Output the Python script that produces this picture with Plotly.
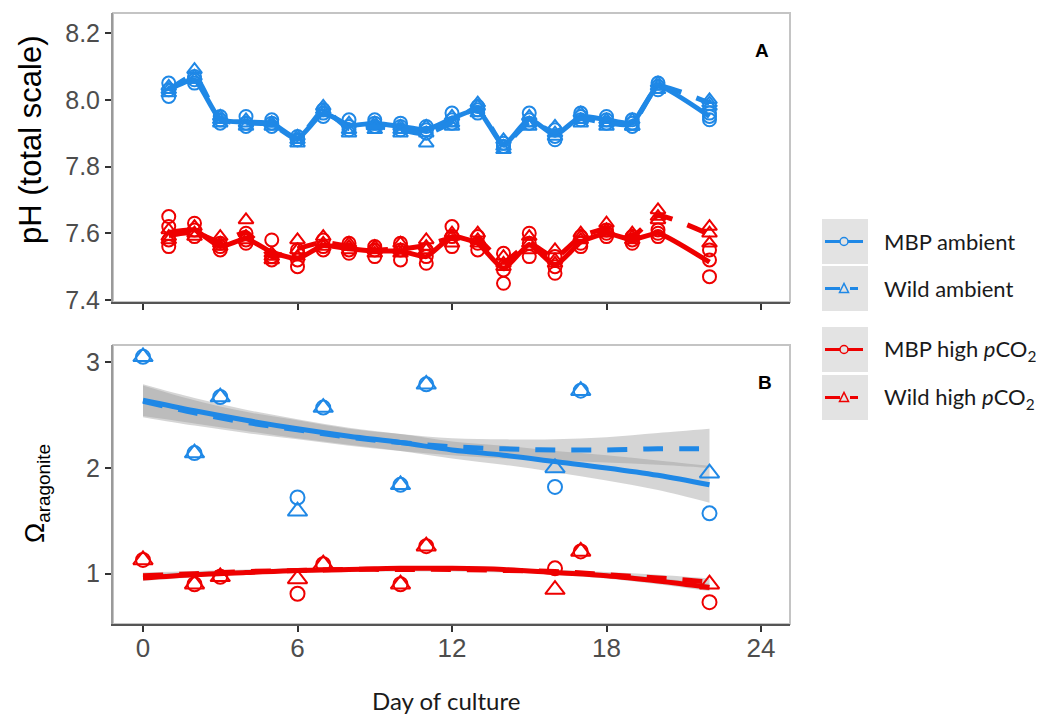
import numpy as np
import plotly.graph_objects as go

W, H = 1044, 718
OFF = 8  # page body margin offset
FW, FH = W - OFF, H - OFF

# ---------------- Panel A data (pH, replicate values per day) ----------------
days_ph = [1, 2, 3, 4, 5, 6, 7, 8, 9, 10, 11, 12, 13, 14, 15, 16, 17, 18, 19, 20, 22]

mbp_ambient_ph = [
    [8.05, 8.01, 8.03], [8.06, 8.07, 8.05], [7.95, 7.94, 7.93], [7.95, 7.93, 7.92],
    [7.94, 7.93, 7.92], [7.89, 7.88, 7.88], [7.97, 7.95, 7.96], [7.94, 7.92, 7.91],
    [7.94, 7.93, 7.92], [7.93, 7.92, 7.91], [7.92, 7.91, 7.90], [7.96, 7.94, 7.93],
    [7.98, 7.97, 7.96], [7.87, 7.86, 7.86], [7.96, 7.94, 7.93], [7.91, 7.89, 7.88],
    [7.96, 7.95, 7.94], [7.95, 7.94, 7.93], [7.94, 7.93, 7.92], [8.05, 8.04, 8.03],
    [7.96, 7.95, 7.94]]
wild_ambient_ph = [
    [8.04, 8.02, 8.03], [8.09, 8.07, 8.06], [7.94, 7.95, 7.93], [7.94, 7.92, 7.93],
    [7.93, 7.92, 7.93], [7.89, 7.87, 7.88], [7.98, 7.96, 7.97], [7.93, 7.91, 7.90],
    [7.93, 7.92, 7.91], [7.92, 7.91, 7.90], [7.92, 7.90, 7.87], [7.95, 7.93, 7.92],
    [7.99, 7.98, 7.96], [7.88, 7.86, 7.85], [7.95, 7.93, 7.92], [7.92, 7.90, 7.89],
    [7.96, 7.94, 7.93], [7.94, 7.93, 7.92], [7.94, 7.92, 7.92], [8.05, 8.04, 8.03],
    [8.00, 7.99, 7.98]]
mbp_high_ph = [
    [7.65, 7.62, 7.58, 7.56], [7.63, 7.61, 7.59], [7.57, 7.56, 7.55], [7.60, 7.58, 7.57],
    [7.58, 7.53, 7.52], [7.55, 7.52, 7.50], [7.58, 7.56, 7.55], [7.57, 7.55, 7.54],
    [7.56, 7.55, 7.53], [7.57, 7.55, 7.52], [7.55, 7.53, 7.51], [7.62, 7.59, 7.56],
    [7.59, 7.57, 7.55], [7.54, 7.49, 7.45], [7.60, 7.57, 7.53], [7.53, 7.50, 7.48],
    [7.59, 7.57, 7.56], [7.61, 7.60, 7.59], [7.59, 7.58, 7.57], [7.61, 7.60, 7.59],
    [7.55, 7.52, 7.47]]
wild_high_ph = [
    [7.61, 7.59, 7.58], [7.62, 7.60, 7.59], [7.59, 7.57, 7.56], [7.64, 7.59, 7.58],
    [7.54, 7.53, 7.52], [7.58, 7.55, 7.53], [7.59, 7.57, 7.56], [7.57, 7.56, 7.55],
    [7.56, 7.55, 7.54], [7.57, 7.55, 7.54], [7.58, 7.56, 7.55], [7.60, 7.59, 7.57],
    [7.60, 7.58, 7.57], [7.53, 7.51, 7.50], [7.59, 7.57, 7.55], [7.55, 7.52, 7.51],
    [7.60, 7.59, 7.58], [7.63, 7.61, 7.60], [7.60, 7.59, 7.58], [7.67, 7.65, 7.64],
    [7.62, 7.60, 7.57]]

# ---------------- Panel B data (Omega aragonite) ----------------
days_om = [0, 2, 3, 6, 7, 10, 11, 16, 17, 22]
mbp_ambient_om = [3.05, 2.14, 2.67, 1.72, 2.57, 1.84, 2.79, 1.82, 2.73, 1.57]
wild_ambient_om = [3.05, 2.14, 2.67, 1.59, 2.57, 1.84, 2.79, 2.00, 2.73, 1.95]
mbp_high_om = [1.13, 0.90, 0.97, 0.81, 1.09, 0.90, 1.26, 1.05, 1.21, 0.73]
wild_high_om = [1.13, 0.90, 0.97, 0.95, 1.09, 0.90, 1.26, 0.85, 1.21, 0.90]

# fitted curves and confidence bands
fit_days = [0, 2, 4, 6, 8, 10, 12, 14, 16, 18, 20, 22]
fit_mbp_amb = [2.64, 2.54, 2.45, 2.37, 2.30, 2.24, 2.17, 2.12, 2.06, 2.00, 1.93, 1.84]
fit_mbp_amb_lo = [2.49, 2.42, 2.35, 2.28, 2.22, 2.16, 2.09, 2.03, 1.96, 1.88, 1.79, 1.67]
fit_mbp_amb_hi = [2.79, 2.66, 2.55, 2.46, 2.38, 2.32, 2.25, 2.21, 2.16, 2.12, 2.07, 2.02]
fit_wild_amb = [2.63, 2.52, 2.43, 2.36, 2.29, 2.24, 2.20, 2.18, 2.17, 2.17, 2.18, 2.18]
fit_wild_amb_lo = [2.48, 2.40, 2.33, 2.27, 2.21, 2.16, 2.12, 2.09, 2.07, 2.05, 2.03, 2.00]
fit_wild_amb_hi = [2.78, 2.64, 2.53, 2.45, 2.37, 2.32, 2.28, 2.27, 2.27, 2.29, 2.33, 2.37]
fit_mbp_high = [0.96, 0.99, 1.01, 1.03, 1.04, 1.05, 1.05, 1.04, 1.01, 0.98, 0.93, 0.87]
fit_mbp_high_lo = [0.93, 0.965, 0.99, 1.01, 1.02, 1.03, 1.03, 1.02, 0.99, 0.955, 0.90, 0.835]
fit_mbp_high_hi = [0.99, 1.015, 1.03, 1.05, 1.06, 1.07, 1.07, 1.06, 1.03, 1.005, 0.96, 0.905]
fit_wild_high = [0.98, 1.00, 1.02, 1.03, 1.04, 1.04, 1.04, 1.03, 1.02, 0.99, 0.96, 0.92]
fit_wild_high_lo = [0.95, 0.975, 1.00, 1.01, 1.02, 1.02, 1.02, 1.01, 1.00, 0.965, 0.93, 0.885]
fit_wild_high_hi = [1.01, 1.025, 1.04, 1.05, 1.06, 1.06, 1.06, 1.05, 1.04, 1.015, 0.99, 0.955]

x_ticks = [0, 6, 12, 18, 24]
ph_ticks = [7.4, 7.6, 7.8, 8.0, 8.2]
om_ticks = [1, 2, 3]

BLUE = "#1f88e6"
RED = "#ee0000"
RIBBON = "rgba(150,150,150,0.4)"
LW = 5
DASH = "20px,16px"

fig = go.Figure()


def px(xp):
    return (xp - OFF) / FW


def py(yp):
    return 1 - (yp - OFF) / FH


def add_ph(values, color, symbol, dash):
    xs, ys = [], []
    for d, vals in zip(days_ph, values):
        for v in vals:
            xs.append(d)
            ys.append(v)
    fig.add_trace(go.Scatter(x=xs, y=ys, mode="markers", xaxis="x", yaxis="y",
                             marker=dict(symbol=symbol, size=13, color=color,
                                         line=dict(color=color, width=2)),
                             showlegend=False, hoverinfo="skip"))
    means = [float(np.mean(v)) for v in values]
    fig.add_trace(go.Scatter(x=days_ph, y=means, mode="lines", xaxis="x", yaxis="y",
                             line=dict(color=color, width=LW, dash=dash, shape="spline",
                                       smoothing=0.45),
                             showlegend=False, hoverinfo="skip"))


add_ph(mbp_ambient_ph, BLUE, "circle-open", "solid")
add_ph(wild_ambient_ph, BLUE, "triangle-up-open", DASH)
add_ph(mbp_high_ph, RED, "circle-open", "solid")
add_ph(wild_high_ph, RED, "triangle-up-open", DASH)


def add_ribbon(lo, hi):
    fig.add_trace(go.Scatter(x=fit_days, y=lo, mode="lines", xaxis="x2", yaxis="y2",
                             line=dict(width=0, shape="spline"), showlegend=False,
                             hoverinfo="skip"))
    fig.add_trace(go.Scatter(x=fit_days, y=hi, mode="lines", xaxis="x2", yaxis="y2",
                             line=dict(width=0, shape="spline"), fill="tonexty",
                             fillcolor=RIBBON, showlegend=False, hoverinfo="skip"))


add_ribbon(fit_mbp_amb_lo, fit_mbp_amb_hi)
add_ribbon(fit_wild_amb_lo, fit_wild_amb_hi)
add_ribbon(fit_mbp_high_lo, fit_mbp_high_hi)
add_ribbon(fit_wild_high_lo, fit_wild_high_hi)

for fit, color, dash in [(fit_mbp_amb, BLUE, "solid"), (fit_wild_amb, BLUE, DASH),
                         (fit_mbp_high, RED, "solid"), (fit_wild_high, RED, DASH)]:
    fig.add_trace(go.Scatter(x=fit_days, y=fit, mode="lines", xaxis="x2", yaxis="y2",
                             line=dict(color=color, width=LW, dash=dash, shape="spline"),
                             showlegend=False, hoverinfo="skip"))

for vals, color, symbol, size in [(mbp_ambient_om, BLUE, "circle-open", 14),
                                  (wild_ambient_om, BLUE, "triangle-up-open", 17),
                                  (mbp_high_om, RED, "circle-open", 14),
                                  (wild_high_om, RED, "triangle-up-open", 17)]:
    fig.add_trace(go.Scatter(x=days_om, y=vals, mode="markers", xaxis="x2", yaxis="y2",
                             marker=dict(symbol=symbol, size=size, color=color,
                                         line=dict(color=color, width=2)),
                             showlegend=False, hoverinfo="skip"))

xdom = [px(113), px(790)]
tickfont = dict(family="Liberation Sans, Arial", size=25, color="#4d4d4d")
common_x = dict(domain=xdom, range=[-1.165, 25.126], tickvals=x_ticks, ticks="outside",
                ticklen=6, tickwidth=2, tickcolor="#333333", showline=True,
                linecolor="#555555", linewidth=2, showgrid=False, zeroline=False,
                automargin=False)
common_y = dict(ticks="outside", ticklen=6, tickwidth=2, tickcolor="#333333",
                showline=True, linecolor="#9a9a9a", linewidth=2, showgrid=False,
                zeroline=False, tickfont=tickfont, automargin=False)

shapes = []
for xr, yr in [("x domain", "y domain"), ("x2 domain", "y2 domain")]:
    shapes.append(dict(type="rect", xref=xr, yref=yr, x0=0, x1=1, y0=0, y1=1,
                       line=dict(color="#c4c4c4", width=2), layer="below"))

annotations = [
    dict(text="<b>A</b>", x=px(762), y=py(50), xref="paper", yref="paper", showarrow=False,
         font=dict(family="Liberation Sans, Arial", size=19, color="black"),
         xanchor="center", yanchor="middle"),
    dict(text="<b>B</b>", x=px(765), y=py(382), xref="paper", yref="paper",
         showarrow=False, font=dict(family="Liberation Sans, Arial", size=19, color="black"),
         xanchor="center", yanchor="middle"),
    dict(text="pH (total scale)", x=px(31), y=py(140), xref="paper", yref="paper",
         showarrow=False, textangle=-90,
         font=dict(family="Liberation Sans, Arial", size=31, color="black"),
         xanchor="center", yanchor="middle"),
    dict(text="Ω<sub>aragonite</sub>", x=px(37), y=py(494), xref="paper", yref="paper",
         showarrow=False, textangle=-90,
         font=dict(family="Liberation Sans, Arial", size=27, color="black"),
         xanchor="center", yanchor="middle"),
    dict(text="Day of culture", x=px(446), y=py(700), xref="paper", yref="paper",
         showarrow=False, font=dict(family="Lato", size=24, color="#1a1a1a"),
         xanchor="center", yanchor="middle"),
]

# ----- custom legend -----
legend_items = [
    ("MBP ambient", BLUE, "circle", False, 241.5),
    ("Wild ambient", BLUE, "triangle", True, 288.5),
    ("MBP high <i>p</i>CO<sub>2</sub>", RED, "circle", False, 349.5),
    ("Wild high <i>p</i>CO<sub>2</sub>", RED, "triangle", True, 397.5),
]
for label, color, mk, dashed, cy in legend_items:
    shapes.append(dict(type="rect", xref="paper", yref="paper", x0=px(822), x1=px(868),
                       y0=py(cy + 22.5), y1=py(cy - 22.5), fillcolor="#e3e3e3",
                       line=dict(width=0)))
    if dashed:
        segs = [(825, 840), (850, 858)]
    else:
        segs = [(825, 863)]
    for a, b in segs:
        shapes.append(dict(type="line", xref="paper", yref="paper", x0=px(a), x1=px(b),
                           y0=py(cy), y1=py(cy), line=dict(color=color, width=3)))
    if mk == "circle":
        shapes.append(dict(type="circle", xref="paper", yref="paper", x0=px(840), x1=px(848),
                           y0=py(cy + 4), y1=py(cy - 4), fillcolor="#e3e3e3",
                           line=dict(color=color, width=1.5)))
    else:
        path = "M {:.5f} {:.5f} L {:.5f} {:.5f} L {:.5f} {:.5f} Z".format(
            px(839.5), py(cy + 4), px(848.5), py(cy + 4), px(844), py(cy - 5))
        shapes.append(dict(type="path", xref="paper", yref="paper", path=path,
                           fillcolor="#e3e3e3", line=dict(color=color, width=1.5)))
    annotations.append(dict(text=label, x=px(882), y=py(cy), xref="paper", yref="paper",
                            showarrow=False, xanchor="left", yanchor="middle",
                            font=dict(family="Lato", size=22, color="#1a1a1a")))

fig.update_layout(
    width=FW, height=FH,
    margin=dict(l=0, r=0, t=0, b=0, autoexpand=False),
    paper_bgcolor="white", plot_bgcolor="white",
    xaxis=dict(common_x, anchor="y", showticklabels=False),
    yaxis=dict(common_y, domain=[py(302), py(13)], range=[7.394, 8.26],
               tickvals=ph_ticks, tickformat=".1f", anchor="x"),
    xaxis2=dict(common_x, anchor="y2", showticklabels=True,
                tickfont=dict(family="Liberation Sans, Arial", size=26, color="#4d4d4d"),
                ticklabelstandoff=-6),
    yaxis2=dict(common_y, domain=[py(624), py(345)], range=[0.524, 3.162],
                tickvals=om_ticks, anchor="x2"),
    shapes=shapes,
    annotations=annotations,
)

fig.write_html("out.html")
